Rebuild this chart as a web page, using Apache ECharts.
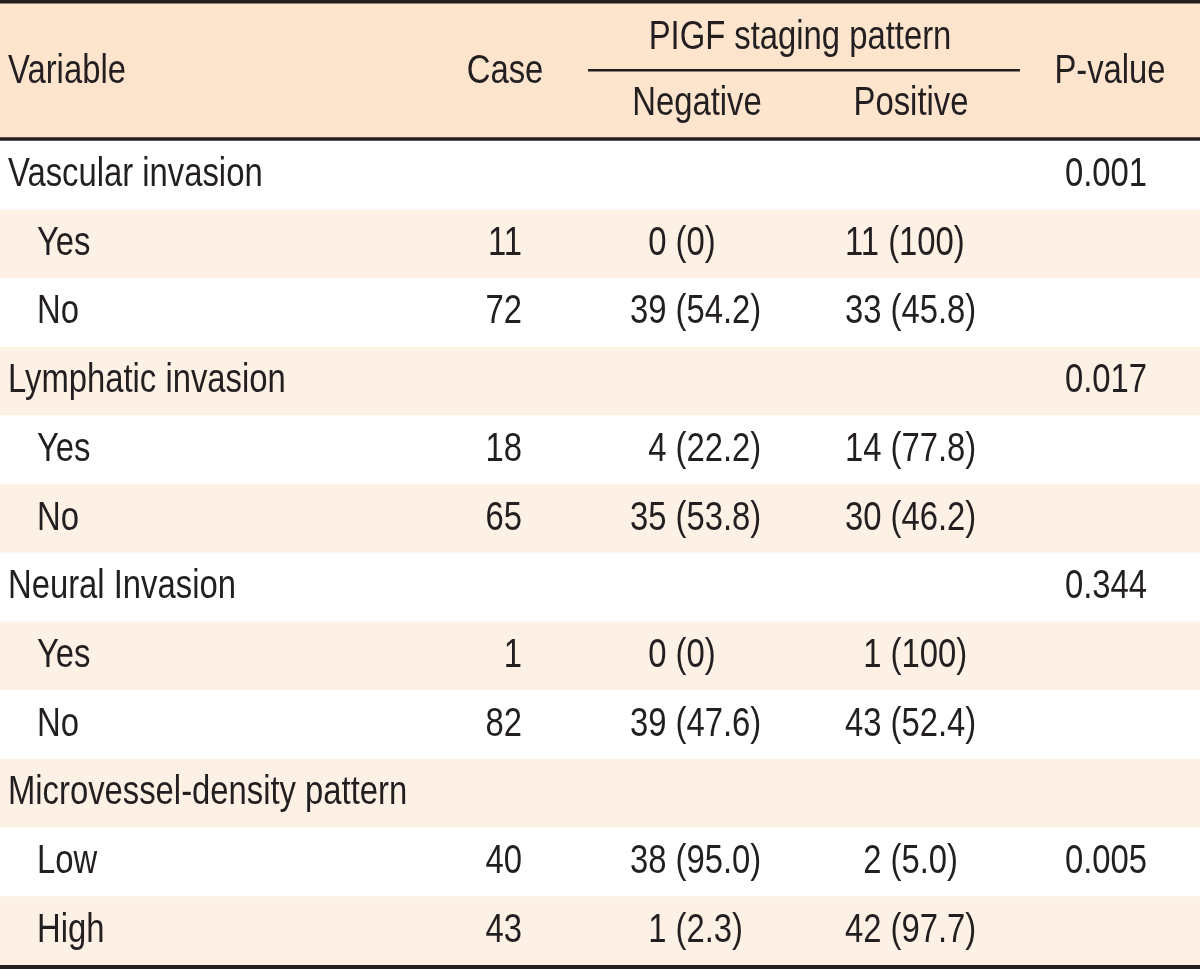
<!DOCTYPE html>
<html>
<head>
<meta charset="utf-8">
<script src="https://cdn.jsdelivr.net/npm/echarts@6/dist/echarts.min.js"></script>
<style>
  html, body { margin: 0; padding: 0; background: #ffffff; }
  #chart { width: 1200px; height: 969px; }
</style>
</head>
<body>
<div id="chart"></div>
<script>
// ---------- data ----------
const rowLabels = ['Vascular invasion', 'Yes', 'No', 'Lymphatic invasion', 'Yes', 'No',
                   'Neural Invasion', 'Yes', 'No', 'Microvessel-density pattern', 'Low', 'High'];
const isGroupRow = [true, false, false, true, false, false, true, false, false, true, false, false];
const caseCounts = [null, 11, 72, null, 18, 65, null, 1, 82, null, 40, 43];
const negCounts  = [null, 0, 39, null, 4, 35, null, 0, 39, null, 38, 1];
const negPcts    = [null, '0', '54.2', null, '22.2', '53.8', null, '0', '47.6', null, '95.0', '2.3'];
const posCounts  = [null, 11, 33, null, 14, 30, null, 1, 43, null, 2, 42];
const posPcts    = [null, '100', '45.8', null, '77.8', '46.2', null, '100', '52.4', null, '5.0', '97.7'];
const pValues    = ['0.001', null, null, '0.017', null, null, '0.344', null, null, null, '0.005', null];
const headerTop  = ['Variable', 'Case', 'PIGF staging pattern', 'P-value'];
const headerSub  = ['Negative', 'Positive'];

// ---------- style ----------
const INK = '#231f20';
const HEAD_BG = '#fde4cd';
const TINT = '#fdf0e5';
const FF = '"Liberation Sans", Arial, sans-serif';
const FS = 40;
const SX = 0.82;
const COL = { label: 8, sub: 37, caseR: 522, negL: 630, posL: 845, pL: 1065 };

function pad(n) { return n < 10 ? '\u2007' + n : String(n); }

function txt(x, y, s, align) {
  return {
    type: 'text', x: x, y: y, scaleX: SX, silent: true,
    style: { text: s, fontSize: FS, fontFamily: FF, fill: INK, align: align, verticalAlign: 'middle' }
  };
}

const chart = echarts.init(document.getElementById('chart'), null, { renderer: 'canvas' });

function renderRow(params, api) {
  const i = api.value(1);
  const c = api.coord([0, i]);
  const yc = c[1];
  const h = api.size([0, 1])[1];
  const kids = [];
  kids.push({
    type: 'rect', silent: true,
    shape: { x: 0, y: yc - h / 2, width: 1200, height: h },
    style: { fill: i % 2 === 1 ? TINT : '#ffffff' }
  });
  kids.push(txt(isGroupRow[i] ? COL.label : COL.sub, yc, rowLabels[i], 'left'));
  if (caseCounts[i] !== null) kids.push(txt(COL.caseR, yc, String(caseCounts[i]), 'right'));
  if (negCounts[i] !== null) kids.push(txt(COL.negL, yc, pad(negCounts[i]) + ' (' + negPcts[i] + ')', 'left'));
  if (posCounts[i] !== null) kids.push(txt(COL.posL, yc, pad(posCounts[i]) + ' (' + posPcts[i] + ')', 'left'));
  if (pValues[i] !== null) kids.push(txt(COL.pL, yc, pValues[i], 'left'));
  return { type: 'group', children: kids };
}

const option = {
  backgroundColor: '#ffffff',
  animation: false,
  grid: { left: 0, right: 0, top: 140.7, bottom: 4, containLabel: false },
  xAxis: { type: 'value', min: 0, max: 1200, show: false },
  yAxis: { type: 'category', data: rowLabels.map((l, i) => i + ':' + l), inverse: true, show: false },
  series: [{
    type: 'custom',
    renderItem: renderRow,
    data: rowLabels.map((l, i) => [0, i]),
    encode: { x: 0, y: 1 },
    clip: false
  }],
  graphic: [
    { type: 'rect', z: 1, silent: true, shape: { x: 0, y: 3, width: 1200, height: 135 }, style: { fill: HEAD_BG } },
    { type: 'rect', z: 10, silent: true, shape: { x: 0, y: 0, width: 1200, height: 3.5 }, style: { fill: INK } },
    { type: 'rect', z: 10, silent: true, shape: { x: 0, y: 137.3, width: 1200, height: 3.4 }, style: { fill: INK } },
    { type: 'rect', z: 10, silent: true, shape: { x: 0, y: 965, width: 1200, height: 4 }, style: { fill: INK } },
    { type: 'rect', z: 10, silent: true, shape: { x: 588, y: 69, width: 432, height: 2.5 }, style: { fill: INK } },
    Object.assign(txt(COL.label, 72, headerTop[0], 'left'), { z: 10 }),
    Object.assign(txt(505, 72, headerTop[1], 'center'), { z: 10 }),
    Object.assign(txt(800, 38, headerTop[2], 'center'), { z: 10 }),
    Object.assign(txt(1110, 72, headerTop[3], 'center'), { z: 10 }),
    Object.assign(txt(697, 104, headerSub[0], 'center'), { z: 10 }),
    Object.assign(txt(911, 104, headerSub[1], 'center'), { z: 10 })
  ]
};
chart.setOption(option);
</script>
</body>
</html>
